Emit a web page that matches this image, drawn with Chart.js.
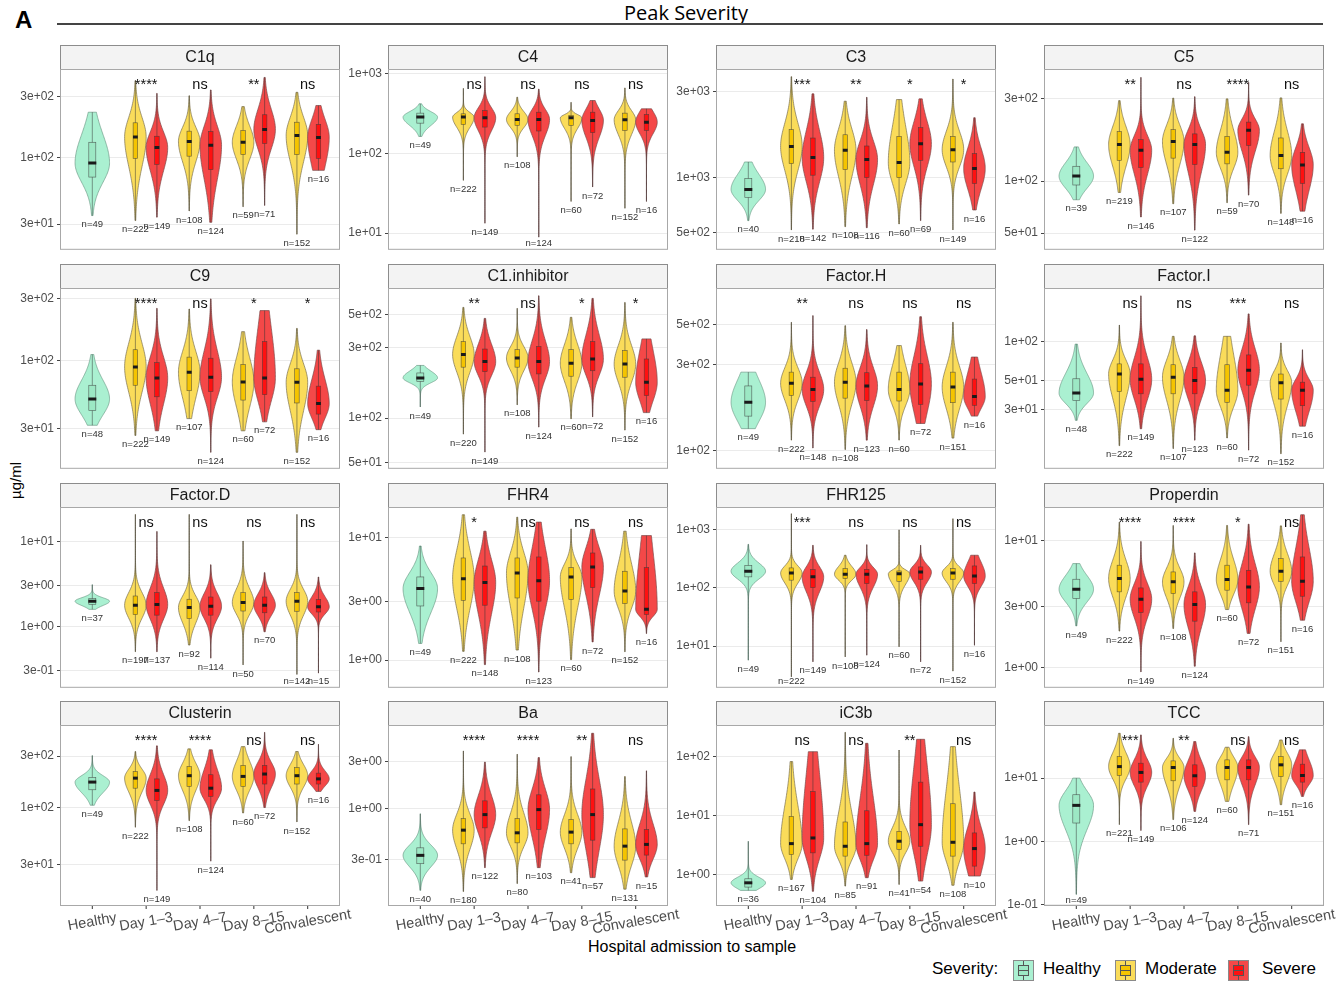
<!DOCTYPE html>
<html>
<head>
<meta charset="utf-8">
<script src="https://cdn.jsdelivr.net/npm/chart.js@4.4.0/dist/chart.umd.min.js"></script>
<style>
  body { margin: 0; width: 1343px; height: 983px; position: relative; overflow: hidden; background: #fff;
         font-family: 'Liberation Sans', Arial, sans-serif; color: #000; }
  canvas { position: absolute; }
  .txt { position: absolute; white-space: nowrap; }
  .key { position: absolute; width: 19px; height: 19px; border: 1px solid #8a8a8a; }
  .key .bx { position: absolute; left: 4px; top: 4px; width: 9px; height: 9px; border: 1px solid #555; }
  .key .md { position: absolute; left: 4px; top: 9px; width: 11px; height: 1px; background: #555; }
  .key .wh { position: absolute; left: 9px; top: 0; width: 1px; height: 19px; background: #555; }
</style>
</head>
<body>
<div class="txt" style="left:15px;top:6px;font-weight:bold;font-size:24px;">A</div>
<div class="txt" style="left:586px;top:-1px;width:200px;text-align:center;font-family:'Open Sans',sans-serif;font-size:20px;">Peak Severity</div>
<div class="txt" style="left:57px;top:23px;width:1266px;height:1.5px;background:#444;"></div>
<div class="txt" style="left:-15px;top:472px;width:60px;text-align:center;font-size:15px;transform:rotate(-90deg);">µg/ml</div>
<div class="txt" style="left:542px;top:938px;width:300px;text-align:center;font-size:16px;">Hospital admission to sample</div>
<div class="txt" style="left:932px;top:959px;font-size:17px;">Severity:</div>
<div class="key" style="left:1013px;top:960px;background:#aaf0d1;"><div class="wh"></div><div class="bx" style="background:#9ce8c4"></div><div class="md"></div></div>
<div class="txt" style="left:1043px;top:959px;font-size:17px;">Healthy</div>
<div class="key" style="left:1115px;top:960px;background:#fadc5a;"><div class="wh"></div><div class="bx" style="background:#f5c400"></div><div class="md"></div></div>
<div class="txt" style="left:1145px;top:959px;font-size:17px;">Moderate</div>
<div class="key" style="left:1228px;top:960px;background:#f44848;"><div class="wh"></div><div class="bx" style="background:#ff1010"></div><div class="md"></div></div>
<div class="txt" style="left:1262px;top:959px;font-size:17px;">Severe</div>

<script>
// panels, in reading order (4 per row)
const PANEL_NAMES = ['C1q', 'C4', 'C3', 'C5', 'C9', 'C1.inhibitor', 'Factor.H', 'Factor.I',
                     'Factor.D', 'FHR4', 'FHR125', 'Properdin', 'Clusterin', 'Ba', 'iC3b', 'TCC'];
const CATEGORIES = ['Healthy', 'Day 1\u20133', 'Day 4\u20137', 'Day 8\u201315', 'Convalescent'];
// violin order in every panel: Healthy, then Moderate/Severe for each of the 4 time groups
const SEVERITY = ['Healthy', 'Moderate', 'Severe'];

const Y_MIN = [18.9, 6.17, 401, 40, 14.8, 45.5, 79, 10.5, 0.188, 0.595, 1.91, 0.69, 12.6, 0.102, 0.3, 0.0964];
const Y_MAX = [490, 1155, 3990, 447, 364, 757, 798, 256, 25.4, 17.8, 2470, 18.3, 578, 7.0, 338, 68.8];
const Y_TICKS = [
  [30, 100, 300], [10, 100, 1000], [500, 1000, 3000], [50, 100, 300],
  [30, 100, 300], [50, 100, 300, 500], [100, 300, 500], [30, 50, 100],
  [0.3, 1, 3, 10], [1, 3, 10], [10, 100, 1000], [1, 3, 10],
  [30, 100, 300], [0.3, 1, 3], [1, 10, 100], [0.1, 1, 10]
];

// violin extent (min / max of data) and box quartiles, µg/ml
const V_LO = [
  [35, 32, 34, 38, 31, 41, 42, 25, 79],
  [164, 46, 13.3, 91, 8.9, 25, 38, 20.5, 25],
  [581, 516, 521, 538, 531, 557, 581, 516, 665],
  [78, 86, 62, 74, 52, 75, 83, 65, 67],
  [32, 26.7, 29, 36, 19.8, 29, 34, 19.8, 29.6],
  [119, 78, 59, 123, 87, 99, 102, 83, 109],
  [132, 114, 103, 101, 114, 114, 141, 117, 155],
  [24.7, 15.8, 21.3, 15, 17.4, 18.1, 14.6, 13.7, 22.3],
  [1.58, 0.5, 0.5, 0.6, 0.42, 0.35, 0.86, 0.27, 0.28],
  [1.37, 1.18, 0.92, 1.21, 0.8, 1.01, 1.41, 1.17, 1.65],
  [5.7, 2.95, 5.35, 6.5, 6.95, 9.7, 5.35, 3.7, 10.3],
  [2.12, 1.93, 0.92, 2.02, 1.02, 2.85, 1.85, 1.59, 2.35],
  [106, 66.6, 17.5, 76.5, 32.5, 90, 101, 74.5, 142],
  [0.147, 0.143, 0.25, 0.172, 0.25, 0.222, 0.198, 0.151, 0.201],
  [0.55, 0.84, 0.53, 0.65, 0.9, 0.69, 0.79, 0.67, 0.96],
  [0.147, 1.85, 1.49, 2.22, 2.99, 4.3, 1.85, 3.81, 5.15]
];
const V_Q1 = [
  [70, 98, 88, 102, 80, 105, 128, 105, 98],
  [241, 232, 215, 226, 192, 226, 183, 195, 195],
  [780, 1199, 1035, 1112, 1004, 1004, 1250, 1224, 931],
  [95, 132, 120, 136, 125, 126, 161, 118, 97],
  [41.5, 65, 53, 59, 58, 50, 55, 47.5, 39],
  [177, 221, 206, 221, 199, 192, 209, 189, 142],
  [155, 202, 187, 195, 189, 188, 180, 184, 178],
  [35, 41, 39.5, 39.5, 39.5, 34, 46, 36, 32],
  [1.81, 1.37, 1.35, 1.23, 1.35, 1.51, 1.44, 1.5, 1.47],
  [2.77, 3.08, 2.81, 3.22, 3.03, 3.14, 3.91, 2.9, 2.36],
  [155, 136, 101, 145, 119, 130, 141, 141, 119],
  [3.48, 3.93, 2.7, 3.81, 2.31, 4.05, 3.22, 4.76, 3.63],
  [147, 152, 117, 158, 128, 158, 166, 166, 166],
  [0.274, 0.436, 0.633, 0.446, 0.609, 0.436, 0.475, 0.298, 0.335],
  [0.625, 2.21, 2.36, 2.08, 2.15, 2.69, 3.05, 2.08, 1.41],
  [1.96, 11.0, 8.65, 9.08, 7.4, 9.4, 9.4, 10.6, 8.65]
];
const V_MED = [
  [90, 144, 119, 133, 124, 131, 165, 148, 143],
  [287, 287, 282, 268, 268, 282, 261, 266, 248],
  [864, 1492, 1294, 1420, 1262, 1216, 1545, 1432, 1127],
  [107, 163, 151, 170, 163, 147, 197, 141, 124],
  [51, 90, 74, 82, 75, 69, 74, 68.5, 47],
  [187, 269, 241, 255, 241, 235, 251, 232, 175],
  [185, 236, 218, 239, 228, 218, 234, 225, 199],
  [40, 56, 51, 53, 50, 42, 60, 48, 42],
  [1.97, 1.77, 1.8, 1.66, 1.72, 1.9, 1.77, 1.97, 1.69],
  [3.84, 4.63, 4.3, 5.15, 4.46, 4.78, 5.77, 3.67, 2.6],
  [194, 181, 155, 172, 172, 176, 188, 181, 161],
  [4.12, 5.0, 3.44, 4.71, 3.12, 4.91, 4.3, 5.71, 4.76],
  [173, 188, 145, 198, 152, 195, 205, 198, 185],
  [0.333, 0.6, 0.863, 0.564, 0.97, 0.573, 0.863, 0.413, 0.43],
  [0.738, 3.38, 4.21, 3.05, 3.38, 3.71, 7.06, 3.56, 2.79],
  [3.72, 15.2, 12.3, 14.7, 10.9, 14.7, 14.7, 16.2, 11.0]
];
const V_Q3 = [
  [131, 186, 146, 160, 159, 162, 215, 188, 181],
  [322, 316, 347, 316, 331, 301, 331, 322, 310],
  [993, 1845, 1660, 1730, 1500, 1694, 1893, 1694, 1361],
  [122, 194, 174, 199, 188, 182, 220, 178, 147],
  [65, 122, 97, 107, 105, 94, 141, 87, 64],
  [202, 329, 293, 290, 305, 290, 329, 286, 251],
  [228, 272, 255, 286, 270, 272, 303, 272, 249],
  [51.5, 67, 67, 66, 63, 66, 78.5, 56, 48.5],
  [2.11, 2.27, 2.49, 2.08, 2.21, 2.49, 2.21, 2.49, 2.06],
  [4.78, 6.83, 5.87, 6.83, 6.96, 5.7, 7.5, 5.32, 5.7],
  [245, 221, 207, 215, 209, 196, 230, 215, 239],
  [4.94, 6.37, 4.22, 5.64, 3.93, 6.37, 5.81, 7.18, 7.4],
  [191, 216, 185, 240, 202, 246, 246, 235, 209],
  [0.397, 0.787, 1.19, 0.787, 1.37, 0.769, 1.57, 0.618, 0.609],
  [0.863, 9.74, 25.6, 7.83, 12.1, 5.45, 36.8, 15.9, 5.12],
  [5.47, 21.9, 17.2, 18.7, 16.2, 19.4, 19.4, 21.9, 16.6]
];
const V_HI = [
  [225, 397, 316, 303, 336, 249, 421, 322, 254],
  [422, 660, 925, 511, 646, 441, 464, 668, 365],
  [1224, 3620, 2910, 2650, 2786, 2706, 2730, 3515, 2148],
  [158, 293, 400, 303, 309, 300, 374, 304, 215],
  [112, 303, 254, 251, 300, 168, 244, 178, 121],
  [227, 560, 472, 552, 671, 480, 644, 605, 343],
  [272, 515, 561, 493, 469, 382, 553, 515, 330],
  [95, 133, 223, 109, 110, 109, 162, 97, 86],
  [3.09, 20.8, 13.1, 20.8, 5.3, 10.1, 4.28, 20.8, 3.8],
  [8.55, 15.4, 11.3, 14.7, 13.4, 11.8, 11.7, 11.3, 10.4],
  [563, 1897, 542, 365, 556, 1000, 542, 1556, 365],
  [6.56, 13.9, 9.8, 13.1, 7.96, 13.1, 13.4, 13.0, 15.9],
  [303, 330, 372, 349, 342, 366, 495, 330, 385],
  [0.88, 3.82, 2.94, 3.54, 3.27, 3.35, 5.77, 2.1, 2.4],
  [3.7, 81.8, 120, 255, 166, 128, 194, 146, 25],
  [10, 50.9, 48, 42.5, 37.7, 30.7, 45.1, 40, 27.9]
];
const N_COUNTS = [
  [49, 222, 149, 108, 124, 59, 71, 152, 16],
  [49, 222, 149, 108, 124, 60, 72, 152, 16],
  [40, 218, 142, 108, 116, 60, 69, 149, 16],
  [39, 219, 146, 107, 122, 59, 70, 148, 16],
  [48, 222, 149, 107, 124, 60, 72, 152, 16],
  [49, 220, 149, 108, 124, 60, 72, 152, 16],
  [49, 222, 148, 108, 123, 60, 72, 151, 16],
  [48, 222, 149, 107, 123, 60, 72, 152, 16],
  [37, 197, 137, 92, 114, 50, 70, 142, 15],
  [49, 222, 148, 108, 123, 60, 72, 152, 16],
  [49, 222, 149, 108, 124, 60, 72, 152, 16],
  [49, 222, 149, 108, 124, 60, 72, 151, 16],
  [49, 222, 149, 108, 124, 60, 72, 152, 16],
  [40, 180, 122, 80, 103, 41, 57, 131, 15],
  [36, 167, 104, 85, 91, 41, 54, 108, 10],
  [49, 221, 149, 106, 124, 60, 71, 151, 16]
];
// Moderate vs Severe, per time group
const SIG = [
  ['****', 'ns', '**', 'ns'], ['ns', 'ns', 'ns', 'ns'], ['***', '**', '*', '*'], ['**', 'ns', '****', 'ns'],
  ['****', 'ns', '*', '*'], ['**', 'ns', '*', '*'], ['**', 'ns', 'ns', 'ns'], ['ns', 'ns', '***', 'ns'],
  ['ns', 'ns', 'ns', 'ns'], ['*', 'ns', 'ns', 'ns'], ['***', 'ns', 'ns', 'ns'], ['****', '****', '*', 'ns'],
  ['****', '****', 'ns', 'ns'], ['****', '****', '**', 'ns'], ['ns', 'ns', '**', 'ns'], ['***', '**', 'ns', 'ns']
];

const FILL = ['#aaf0d1', '#fadc5a', '#f44848'];
const BOX_FILL = ['#9ce8c4', '#f5c400', '#ff1010'];
const OUTLINE = ['#6f9c88', '#7a7050', '#7a4a4a'];

const COL_LEFT = [60, 388, 716, 1044];
const ROW_TOP = [45, 264, 483, 701];
const STRIP_H = 24, PLOT_W = 280, PLOT_H = 181, AXIS_W = 58;

const sevOf = k => k === 0 ? 0 : (k % 2 === 1 ? 1 : 2);
const xOf = k => k === 0 ? 1 : Math.floor((k + 1) / 2) + 1 + (k % 2 === 1 ? -0.2 : 0.2);

function fmtSci(v) {
  const e = Math.floor(Math.log10(v) + 1e-9);
  const m = Math.round(v / Math.pow(10, e));
  return m + 'e' + (e < 0 ? '-' : '+') + String(Math.abs(e)).padStart(2, '0');
}

// smooth density outline from the five numbers (log scale), peak at the median
function violinProfile(lo, q1, med, q3, hi) {
  const a = Math.log10(lo), b = Math.log10(q1), m = Math.log10(med), c = Math.log10(q3), d = Math.log10(hi);
  const sLo = Math.max(m - b, 0.02) / 0.7, sHi = Math.max(c - m, 0.02) / 0.7;
  const pts = [];
  let maxW = 0;
  for (let i = 0; i <= 80; i++) {
    const t = a + (d - a) * i / 80;
    const z = (t - m) / (t < m ? sLo : sHi);
    const w = 0.8 * Math.exp(-z * z / 2) + 0.2 * Math.pow(1 + z * z / 3, -2);
    maxW = Math.max(maxW, w);
    pts.push([Math.pow(10, t), w]);
  }
  return pts.map(p => [p[0], p[1] / maxW]);
}

function panelPlugin(p, row) {
  return {
    id: 'violins' + p,
    beforeDatasetsDraw(chart) {
      const { ctx, chartArea: ca, scales: { x, y } } = chart;
      // strip
      ctx.save();
      ctx.fillStyle = '#f3f3f3';
      ctx.fillRect(ca.left, ca.top - STRIP_H, ca.right - ca.left, STRIP_H);
      ctx.strokeStyle = '#8c8c8c';
      ctx.lineWidth = 1;
      ctx.strokeRect(ca.left + 0.5, ca.top - STRIP_H + 0.5, ca.right - ca.left - 1, STRIP_H);
      ctx.fillStyle = '#1a1a1a';
      ctx.font = "16px 'Liberation Sans', Arial, sans-serif";
      ctx.textAlign = 'center';
      ctx.textBaseline = 'middle';
      ctx.fillText(PANEL_NAMES[p], (ca.left + ca.right) / 2, ca.top - STRIP_H / 2 + 1);
      ctx.restore();

      ctx.save();
      ctx.beginPath();
      ctx.rect(ca.left, ca.top, ca.right - ca.left, ca.bottom - ca.top);
      ctx.clip();
      for (let k = 0; k < 9; k++) {
        const s = sevOf(k), xc = xOf(k);
        const hw = k === 0 ? 0.32 : 0.2;
        const prof = violinProfile(V_LO[p][k], V_Q1[p][k], V_MED[p][k], V_Q3[p][k], V_HI[p][k]);
        ctx.beginPath();
        prof.forEach((pt, i) => {
          const px = x.getPixelForValue(xc + hw * pt[1]), py = y.getPixelForValue(pt[0]);
          if (i === 0) ctx.moveTo(px, py); else ctx.lineTo(px, py);
        });
        for (let i = prof.length - 1; i >= 0; i--) {
          ctx.lineTo(x.getPixelForValue(xc - hw * prof[i][1]), y.getPixelForValue(prof[i][0]));
        }
        ctx.closePath();
        ctx.fillStyle = FILL[s];
        ctx.fill();
        ctx.strokeStyle = OUTLINE[s];
        ctx.lineWidth = 0.7;
        ctx.stroke();

        // whisker / tail line
        const cx = x.getPixelForValue(xc);
        ctx.beginPath();
        ctx.moveTo(cx, y.getPixelForValue(V_LO[p][k]));
        ctx.lineTo(cx, y.getPixelForValue(V_HI[p][k]));
        ctx.strokeStyle = 'rgba(50,50,50,0.7)';
        ctx.lineWidth = 0.7;
        ctx.stroke();

        // box
        const bw = k === 0 ? 0.065 : 0.042;
        const bx0 = x.getPixelForValue(xc - bw), bx1 = x.getPixelForValue(xc + bw);
        const by0 = y.getPixelForValue(V_Q3[p][k]), by1 = y.getPixelForValue(V_Q1[p][k]);
        ctx.fillStyle = BOX_FILL[s];
        ctx.fillRect(bx0, by0, bx1 - bx0, by1 - by0);
        ctx.strokeStyle = 'rgba(60,60,60,0.8)';
        ctx.lineWidth = 0.6;
        ctx.strokeRect(bx0, by0, bx1 - bx0, by1 - by0);
      }
      ctx.restore();
    },
    afterDraw(chart) {
      const { ctx, chartArea: ca, scales: { x, y } } = chart;
      ctx.save();
      // panel border
      ctx.strokeStyle = '#a8a8a8';
      ctx.lineWidth = 1;
      ctx.strokeRect(ca.left + 0.5, ca.top + 0.5, ca.right - ca.left - 1, ca.bottom - ca.top - 1);

      // n labels
      ctx.fillStyle = '#333';
      ctx.font = "9.5px 'Liberation Sans', Arial, sans-serif";
      ctx.textAlign = 'center';
      ctx.textBaseline = 'middle';
      for (let k = 0; k < 9; k++) {
        const yy = Math.min(y.getPixelForValue(V_LO[p][k]) + 9, ca.bottom - 6);
        ctx.fillText('n=' + N_COUNTS[p][k], x.getPixelForValue(xOf(k)), yy);
      }

      // significance labels
      ctx.fillStyle = '#111';
      ctx.font = "14.5px 'Liberation Sans', Arial, sans-serif";
      ctx.textBaseline = 'alphabetic';
      SIG[p].forEach((s, g) => {
        ctx.fillText(s, x.getPixelForValue(g + 2), ca.top + 20);
      });

      // x axis on the bottom row
      if (row === 3) {
        ctx.strokeStyle = '#333';
        ctx.lineWidth = 1;
        ctx.fillStyle = '#4d4d4d';
        ctx.font = "14.5px 'Liberation Sans', Arial, sans-serif";
        ctx.textBaseline = 'middle';
        CATEGORIES.forEach((c, i) => {
          const px = x.getPixelForValue(i + 1);
          ctx.beginPath();
          ctx.moveTo(px, ca.bottom);
          ctx.lineTo(px, ca.bottom + 3);
          ctx.stroke();
          ctx.save();
          ctx.translate(px, ca.bottom + 16);
          ctx.rotate(-10 * Math.PI / 180);
          ctx.fillText(c, 0, 0);
          ctx.restore();
        });
      }
      ctx.restore();
    }
  };
}

PANEL_NAMES.forEach((name, p) => {
  const col = p % 4, row = Math.floor(p / 4);
  const padBottom = row === 3 ? 42 : 10;
  const padRight = row === 3 ? 32 : 2;
  const canvas = document.createElement('canvas');
  const w = AXIS_W + PLOT_W + padRight, h = STRIP_H + PLOT_H + padBottom;
  canvas.width = w;
  canvas.height = h;
  canvas.style.left = (COL_LEFT[col] - AXIS_W) + 'px';
  canvas.style.top = ROW_TOP[row] + 'px';
  canvas.style.width = w + 'px';
  canvas.style.height = h + 'px';
  document.body.appendChild(canvas);

  new Chart(canvas, {
    type: 'scatter',
    data: {
      datasets: [{
        label: 'median',
        data: V_MED[p].map((v, k) => ({ x: xOf(k), y: v })),
        pointStyle: 'line',
        pointRadius: V_MED[p].map((v, k) => k === 0 ? 4 : 2.4),
        pointHoverRadius: V_MED[p].map((v, k) => k === 0 ? 4 : 2.4),
        pointBorderWidth: 3,
        pointBorderColor: '#1a1a1a',
        pointBackgroundColor: '#1a1a1a'
      }]
    },
    options: {
      responsive: false,
      animation: false,
      events: [],
      layout: { autoPadding: false, padding: { top: STRIP_H, right: padRight, bottom: padBottom, left: 0 } },
      plugins: { legend: { display: false }, tooltip: { enabled: false } },
      scales: {
        x: { type: 'linear', min: 0.4, max: 5.6, display: false },
        y: {
          type: 'logarithmic',
          min: Y_MIN[p],
          max: Y_MAX[p],
          afterFit: scale => { scale.width = AXIS_W; },
          afterBuildTicks: scale => { scale.ticks = Y_TICKS[p].map(v => ({ value: v })); },
          ticks: {
            autoSkip: false,
            padding: 3,
            color: '#4d4d4d',
            font: { family: "'Liberation Sans', Arial, sans-serif", size: 12 },
            callback: v => fmtSci(v)
          },
          grid: { color: '#ebebeb', tickColor: '#444', tickLength: 3 },
          border: { display: false }
        }
      }
    },
    plugins: [panelPlugin(p, row)]
  });
});
</script>
</body>
</html>
